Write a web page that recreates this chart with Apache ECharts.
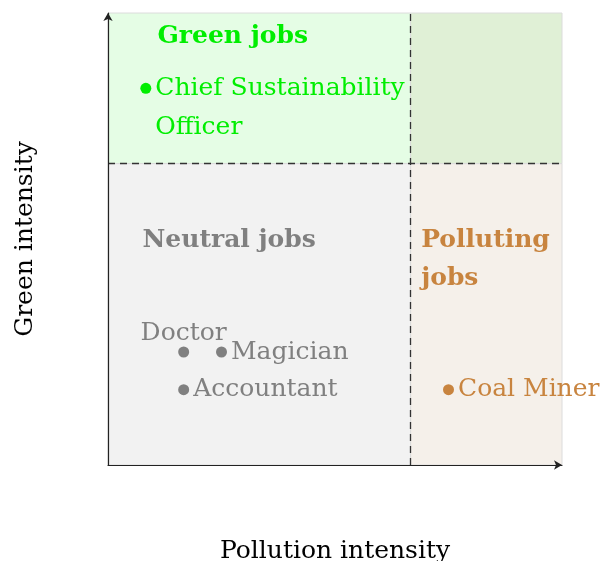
<!DOCTYPE html>
<html>
<head>
<meta charset="utf-8">
<script src="https://cdn.jsdelivr.net/npm/echarts@6/dist/echarts.min.js"></script>
<style>
  html, body { margin: 0; padding: 0; background: #fff; }
  #chart { width: 601px; height: 561px; }
</style>
</head>
<body>
<div id="chart"></div>
<script>
// job positions (pollution intensity, green intensity)
const jobs = ['Chief Sustainability\nOfficer', 'Doctor', 'Magician', 'Accountant', 'Coal Miner']
const pollution = [0.25, 0.5, 0.75, 0.5, 2.25]
const greenness = [2.5, 0.75, 0.75, 0.5, 0.5]
const jobGroup = ['green', 'neutral', 'neutral', 'neutral', 'polluting']

// quadrant split and axis range
const threshold = 2
const axisMax = 3

const FONT = '"DejaVu Serif", "Liberation Serif", serif'
const colors = { green: '#00ee00', neutral: '#808080', polluting: '#c8843f' }

const chart = echarts.init(document.getElementById('chart'))

const groupSeries = (g) => {
  const data = []
  jobs.forEach((name, i) => {
    if (jobGroup[i] !== g) return
    const item = { name: name, value: [pollution[i], greenness[i]] }
    if (name === 'Doctor') {
      item.label = { position: 'top', distance: -6 }
    }
    if (name.indexOf('\n') >= 0) {
      item.label = { verticalAlign: 'top', offset: [0, -19] }
    }
    data.push(item)
  })
  return {
    type: 'scatter',
    symbolSize: 11,
    z: 3,
    itemStyle: { color: colors[g], opacity: 1 },
    label: {
      show: true,
      position: 'right',
      distance: 4,
      formatter: '{b}',
      color: colors[g],
      fontFamily: FONT,
      fontSize: 25,
      lineHeight: 39
    },
    emphasis: { disabled: true },
    data: data
  }
}

const titleLabel = (text, color, offset) => ({
  show: true,
  position: 'insideTopLeft',
  formatter: text,
  color: color,
  fontFamily: FONT,
  fontSize: 25,
  fontWeight: 'bold',
  lineHeight: 38,
  offset: offset
})

const axisCommon = {
  type: 'value', min: 0, max: axisMax, z: 10,
  nameLocation: 'middle',
  nameTextStyle: { fontFamily: FONT, fontSize: 25, color: '#000' },
  axisLine: { lineStyle: { color: '#222', width: 1.2 }, symbol: ['none', 'arrow'], symbolSize: [7, 8] },
  axisTick: { show: false }, axisLabel: { show: false }, splitLine: { show: false }
}

chart.setOption({
  animation: false,
  grid: { left: 108, right: 39, top: 13, bottom: 96, outerBoundsMode: 'none' },
  xAxis: Object.assign({}, axisCommon, { name: 'Pollution intensity', nameGap: 74 }),
  yAxis: Object.assign({}, axisCommon, { name: 'Green intensity', nameGap: 70, nameRotate: 90 }),
  series: [
    {
      type: 'scatter',
      data: [],
      z: 1,
      markArea: {
        silent: true,
        data: [
          [{ coord: [0, threshold], itemStyle: { color: '#e5fde5' }, label: titleLabel('Green jobs', colors.green, [45, 0]) }, { coord: [threshold, axisMax] }],
          [{ coord: [threshold, threshold], itemStyle: { color: '#e0f0d6' }, label: { show: false } }, { coord: [axisMax, axisMax] }],
          [{ coord: [0, 0], itemStyle: { color: '#f2f2f2' }, label: titleLabel('Neutral jobs', colors.neutral, [30, 53]) }, { coord: [threshold, threshold] }],
          [{ coord: [threshold, 0], itemStyle: { color: '#f5f0ea' }, label: titleLabel('Polluting\njobs', colors.polluting, [6, 53]) }, { coord: [axisMax, threshold] }]
        ],
        itemStyle: { borderColor: '#dcdcdc', borderWidth: 1, opacity: 1 }
      },
      markLine: {
        silent: true,
        symbol: 'none',
        label: { show: false },
        lineStyle: { color: '#333', type: [7, 5], width: 1.3 },
        data: [{ xAxis: threshold }, { yAxis: threshold }]
      }
    },
    groupSeries('green'),
    groupSeries('neutral'),
    groupSeries('polluting')
  ]
})
</script>
</body>
</html>
